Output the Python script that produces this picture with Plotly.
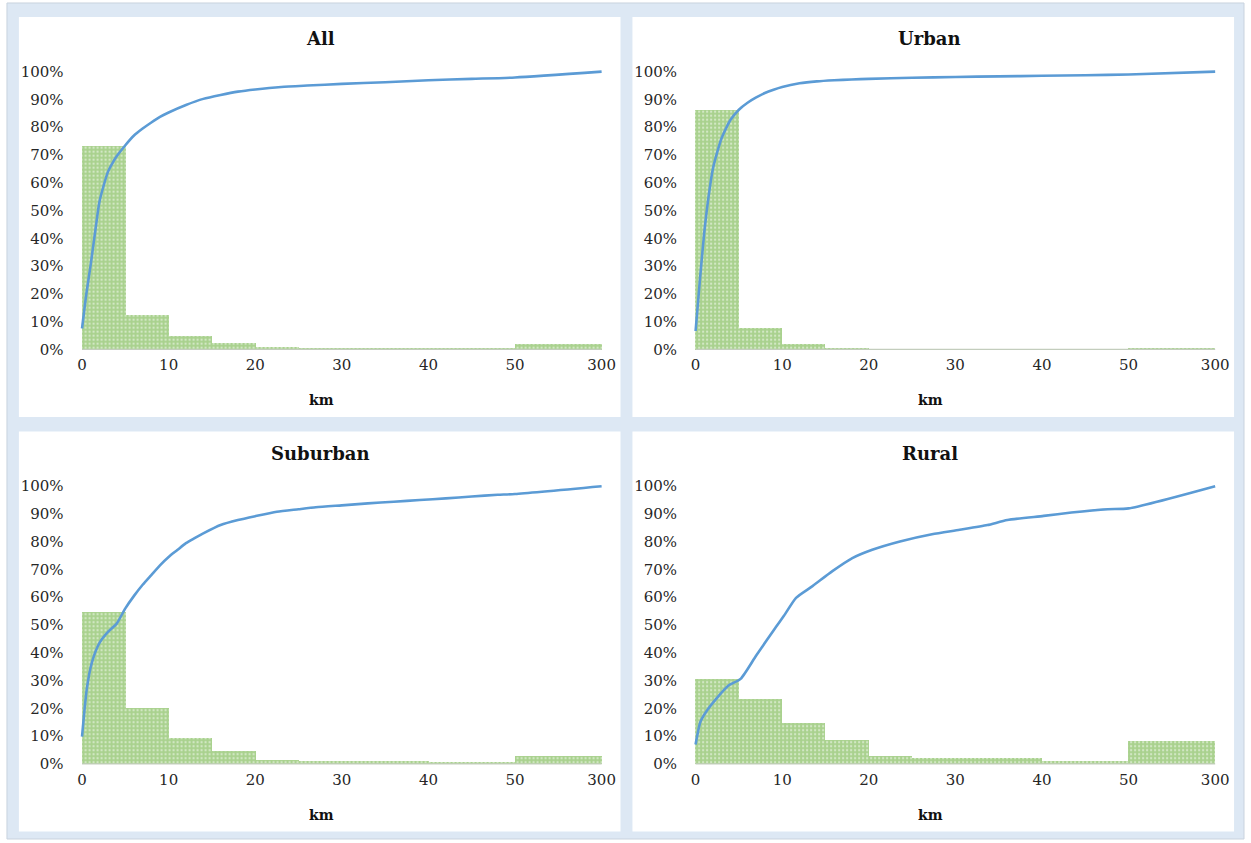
import plotly.graph_objects as go

# ---------------- data ----------------
panel_titles = ["All", "Urban", "Suburban", "Rural"]
bin_edges_km = [0, 5, 10, 15, 20, 25, 30, 35, 40, 45, 50, 300]
tick_km = [0, 10, 20, 30, 40, 50, 300]
tick_text = ["0", "10", "20", "30", "40", "50", "300"]
y_ticks = [0, 10, 20, 30, 40, 50, 60, 70, 80, 90, 100]

all_bars = [73.2, 12.4, 5.0, 2.5, 0.9, 0.6, 0.6, 0.6, 0.3, 0.3, 1.9]
urban_bars = [86.4, 7.8, 1.9, 0.6, 0.2, 0.2, 0.2, 0.2, 0.2, 0.2, 0.6]
suburban_bars = [54.5, 20.1, 9.4, 4.7, 1.4, 0.9, 0.9, 0.9, 0.6, 0.6, 2.6]
rural_bars = [30.3, 23.2, 14.8, 8.6, 2.9, 2.1, 2.1, 2.1, 1.1, 1.1, 8.0]

all_km = [0, 0.5, 1, 1.5, 2, 2.5, 3, 3.5, 4, 5, 6, 7, 8, 9, 10, 12, 14, 16, 18, 20, 23, 26, 30, 35, 40, 45, 50, 300]
all_cum = [7.5, 20, 30.5, 42, 53, 59, 64, 67, 69.5, 73.5, 77, 79.5, 81.7, 83.7, 85.3, 88, 90.2, 91.6, 92.8, 93.6, 94.5, 95, 95.6, 96.2, 96.9, 97.4, 97.9, 100]

urban_km = [0, 0.5, 1, 1.5, 2, 2.5, 3, 3.5, 4, 5, 6, 7, 8, 9, 10, 12, 14, 16, 18, 20, 25, 30, 35, 40, 45, 50, 300]
urban_cum = [6.6, 25, 42, 55, 65, 71, 76, 79.5, 82.5, 86.3, 88.8, 90.7, 92.3, 93.5, 94.5, 95.8, 96.5, 96.9, 97.2, 97.4, 97.8, 98.1, 98.3, 98.5, 98.7, 99.0, 100]

suburban_km = [0, 0.55, 1.15, 2, 3, 4, 5, 6, 7, 8, 9, 10, 11, 12, 13, 14, 16, 18, 20, 22.5, 25, 27, 30, 33, 36, 39, 42, 45, 48, 50, 300]
suburban_cum = [9.8, 27, 36.6, 43.5, 47.5, 50.5, 56, 60.5, 64.5, 68, 71.5, 74.5, 77, 79.5, 81.3, 83, 86, 87.8, 89.2, 90.8, 91.7, 92.4, 93.1, 93.8, 94.4, 95, 95.6, 96.3, 96.9, 97.2, 100]

rural_km = [0, 0.55, 1.2, 2.4, 3.8, 5.2, 7, 9.1, 10.2, 11.6, 13.5, 15.8, 18.1, 20.4, 23.6, 27.3, 30.5, 33.7, 36, 40.2, 43.4, 47.6, 50, 300]
rural_cum = [7, 15.1, 18.7, 23.5, 28.2, 30.6, 39, 48.5, 53.3, 59.8, 64, 69.4, 74.1, 77.1, 80.1, 82.7, 84.3, 86, 87.8, 89.3, 90.5, 91.7, 92, 100]

bars_list = [all_bars, urban_bars, suburban_bars, rural_bars]
lines_list = [(all_km, all_cum), (urban_km, urban_cum), (suburban_km, suburban_cum), (rural_km, rural_cum)]

# ---------------- styling ----------------
W, H = 1251, 843
PAGE_BG = "#dde8f4"
BAR_GREEN = "#a9d18e"
LINE_BLUE = "#5b9bd5"
FONT = "DejaVu Serif"


def disp(km):
    """Axis scale: linear up to 50 km, then the 50-300 bin is compressed to 10 units."""
    if km <= 50:
        return km
    return 50 + (km - 50) / 250 * 10


def fx(px):
    return px / W


def fy(py):
    return 1 - py / H


fig = go.Figure()

# panel geometry (pixels)
col_dx = [0, 617]
row_dy = [0, 416.5]
title_cx = [322, 935]
panel_box = (19, 17, 624, 419)  # white card for top-left panel
x0_px, x60_px = 82.5, 605.0       # display 0 and display 60
y0_px, y100_px = 351.0, 72.0      # 0% and 100%
dom_l, dom_r = 76, 612
dom_t, dom_b = 58, 356

shapes = [dict(type="rect", xref="paper", yref="paper", x0=fx(7), x1=1, y0=0, y1=fy(3),
               fillcolor=PAGE_BG, line=dict(color="#c9d3de", width=1), layer="below")]
annotations = []

for i in range(4):
    r, c = divmod(i, 2)
    dx, dy = col_dx[c], row_dy[r]
    ax = "" if i == 0 else str(i + 1)
    xs = 60 / (x60_px - x0_px)
    ys = 100 / (y0_px - y100_px)
    xr = [(dom_l - x0_px) * xs, 60 + (dom_r - x60_px) * xs]
    yr = [-(dom_b - y0_px) * ys, 100 + (y100_px - dom_t) * ys]

    shapes.append(dict(type="rect", xref="paper", yref="paper",
                       x0=fx(panel_box[0] + dx), x1=fx(panel_box[2] + dx),
                       y0=fy(panel_box[3] + dy), y1=fy(panel_box[1] + dy),
                       fillcolor="white", line=dict(width=0), layer="below"))
    # baseline under the bars
    shapes.append(dict(type="line", xref="x" + ax, yref="y" + ax,
                       x0=disp(bin_edges_km[0]), x1=disp(bin_edges_km[-1]), y0=0, y1=0,
                       line=dict(color="#c3cdbd", width=1.2), layer="above"))

    bars = bars_list[i]
    centers = [(disp(bin_edges_km[k]) + disp(bin_edges_km[k + 1])) / 2 for k in range(len(bars))]
    widths = [disp(bin_edges_km[k + 1]) - disp(bin_edges_km[k]) for k in range(len(bars))]
    fig.add_trace(go.Bar(
        x=centers, y=bars, width=widths,
        marker=dict(color=BAR_GREEN, line=dict(width=0),
                    pattern=dict(shape=".", fgcolor="white", bgcolor=BAR_GREEN,
                                 size=4, solidity=0.25)),
        xaxis="x" + ax, yaxis="y" + ax, showlegend=False, hoverinfo="skip"))

    km, cum = lines_list[i]
    fig.add_trace(go.Scatter(
        x=[disp(k) for k in km], y=cum, mode="lines",
        line=dict(color=LINE_BLUE, width=2.6, shape="spline", smoothing=0.6),
        xaxis="x" + ax, yaxis="y" + ax, showlegend=False, hoverinfo="skip"))

    xdom = [fx(dom_l + dx), fx(dom_r + dx)]
    ydom = [fy(dom_b + dy), fy(dom_t + dy)]
    fig.update_layout(**{
        "xaxis" + ax: dict(domain=xdom, range=xr, anchor="y" + ax,
                           tickvals=[disp(k) for k in tick_km], ticktext=tick_text,
                           showgrid=False, zeroline=False, showline=False,
                           ticks="",
                           tickfont=dict(family=FONT, size=15, color="#262626")),
        "yaxis" + ax: dict(domain=ydom, range=yr, anchor="x" + ax,
                           tickvals=y_ticks, ticktext=[f"{v}%" for v in y_ticks],
                           showgrid=False, zeroline=False, showline=False,
                           ticks="outside", ticklen=8, tickcolor="rgba(0,0,0,0)",
                           tickfont=dict(family=FONT, size=15, color="#262626")),
    })

    cx = title_cx[c]
    annotations.append(dict(text=f"<b>{panel_titles[i]}</b>", xref="paper", yref="paper",
                            x=fx(cx), y=fy(39 + dy), xanchor="center", yanchor="middle",
                            showarrow=False, font=dict(family=FONT, size=18, color="#111111")))
    annotations.append(dict(text="<b>km</b>", xref="paper", yref="paper",
                            x=fx(cx + 1), y=fy(402 + dy),
                            xanchor="center", yanchor="middle", showarrow=False,
                            font=dict(family=FONT, size=14, color="#111111")))

fig.update_layout(
    width=W, height=H, margin=dict(l=0, r=0, t=0, b=0),
    paper_bgcolor="white", plot_bgcolor="rgba(0,0,0,0)",
    barmode="overlay", bargap=0,
    shapes=shapes, annotations=annotations, showlegend=False,
)

# remove the browser's default body margin synchronously (before the page is measured)
sync_css = ("}); document.body.style.margin='0'; document.body.style.overflow='hidden'; "
            "document.documentElement.style.overflow='hidden'; (function(){")

fig.write_html("out.html", config={"displayModeBar": False}, post_script=sync_css)
